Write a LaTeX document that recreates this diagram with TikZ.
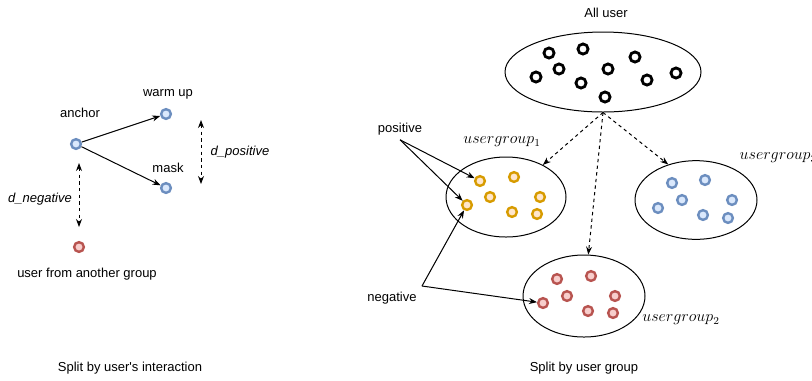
\documentclass[tikz,border=0pt]{standalone}
\usepackage{fontspec}
\setmainfont{Liberation Sans}
\usepackage{tikz}
\usetikzlibrary{arrows.meta,shapes.geometric}

\definecolor{bluestroke}{HTML}{6C8EBF}
\definecolor{bluefill}{HTML}{DAE8FC}
\definecolor{orangestroke}{HTML}{D79B00}
\definecolor{orangefill}{HTML}{FFE6CC}
\definecolor{redstroke}{HTML}{B85450}
\definecolor{redfill}{HTML}{F8CECC}

\begin{document}
\begin{tikzpicture}[x=0.75pt, y=-0.75pt,
    font=\fontsize{9.75}{12}\selectfont,
    >={Stealth[length=6pt,width=4.5pt]},
    user/.style={circle, line width=1.8pt, minimum size=7.3pt, inner sep=0pt},
    blueuser/.style={user, draw=bluestroke, fill=bluefill},
    orangeuser/.style={user, draw=orangestroke, fill=orangefill},
    reduser/.style={user, draw=redstroke, fill=redfill},
    blackuser/.style={circle, draw=black, fill=white, line width=2.1pt, minimum size=7.6pt, inner sep=0pt},
    groupbox/.style={ellipse, draw, line width=0.75pt, inner sep=0pt},
    grouptag/.style={font=\fontsize{11.5}{13}\selectfont},
    arrow/.style={->, line width=0.75pt},
    dasharrow/.style={arrow, dash pattern=on 2.5pt off 2.5pt}]

    \useasboundingbox (0,0) rectangle (812,380);
    \clip (0,0) rectangle (812,380);

    \node[blueuser] (anchor) at (76,144) {};
    \node[blueuser] (warmup) at (166,114) {};
    \node[blueuser] (mask) at (166,188) {};
    \node[reduser] (other) at (79,247) {};

    \node (anchortag) at (80,113) {anchor};
    \node (warmuptag) at (168,94) {warm up};
    \node (masktag) at (168,168) {mask};
    \node (othertag) at (87,274) {user from another group};
    \node (dpos) at (240,152) {\textit{d\_positive}};
    \node (dneg) at (40,199) {\textit{d\_negative}};

    \coordinate (dp1) at (201,120);
    \coordinate (dp2) at (201,184);
    \coordinate (dn1) at (79,163);
    \coordinate (dn2) at (79,227);

    \draw[arrow] (anchor) -- (warmup);
    \draw[arrow] (anchor) -- (mask);
    \draw[dasharrow, <->] (dp1) -- (dp2);
    \draw[dasharrow, <->] (dn1) -- (dn2);

    \node (left) at (130,368) {Split by user\textquotesingle s interaction};

    \node (alltag) at (606,13) {All user};
    \node[groupbox, minimum width=147pt, minimum height=60pt] (all) at (603,72) {};
    \node[groupbox, minimum width=90pt, minimum height=60pt] (g1) at (506,197) {};
    \node[groupbox, minimum width=91.5pt, minimum height=61.5pt] (g2) at (584,296) {};
    \node[groupbox, minimum width=91.5pt, minimum height=59pt] (g3) at (696,200) {};

    \node[grouptag] (g1tag) at (502,142) {$usergroup_1$};
    \node[grouptag] (g2tag) at (681,320) {$usergroup_2$};
    \node[grouptag, anchor=west] (g3tag) at (735,158) {$usergroup_3$};

    \node[blackuser] (a1) at (549,53) {};
    \node[blackuser] (a2) at (583,49) {};
    \node[blackuser] (a3) at (559,69) {};
    \node[blackuser] (a4) at (536,77) {};
    \node[blackuser] (a5) at (608,69) {};
    \node[blackuser] (a6) at (635,57) {};
    \node[blackuser] (a7) at (581,83) {};
    \node[blackuser] (a8) at (647,80) {};
    \node[blackuser] (a9) at (676,73) {};
    \node[blackuser] (a10) at (605,97) {};

    \node[orangeuser] (o1) at (480,181) {};
    \node[orangeuser] (o2) at (514,177) {};
    \node[orangeuser] (o3) at (490,197) {};
    \node[orangeuser] (o4) at (540,197) {};
    \node[orangeuser] (o5) at (467,205) {};
    \node[orangeuser] (o6) at (512,212) {};
    \node[orangeuser] (o7) at (537,214) {};

    \node[reduser] (r1) at (557,279) {};
    \node[reduser] (r2) at (591,276) {};
    \node[reduser] (r3) at (567,296) {};
    \node[reduser] (r4) at (615,296) {};
    \node[reduser] (r5) at (543,303) {};
    \node[reduser] (r6) at (588,311) {};
    \node[reduser] (r7) at (613,313) {};

    \node[blueuser] (b1) at (672,183) {};
    \node[blueuser] (b2) at (705,180) {};
    \node[blueuser] (b3) at (682,200) {};
    \node[blueuser] (b4) at (732,200) {};
    \node[blueuser] (b5) at (658,208) {};
    \node[blueuser] (b6) at (703,215) {};
    \node[blueuser] (b7) at (728,218) {};

    \draw[dasharrow] (all.south) -- (g1);
    \draw[dasharrow] (all.south) -- (g2);
    \draw[dasharrow] (all.south) -- (g3.128);

    \node (pos) at (400,129) {positive};
    \node (neg) at (392,298) {negative};
    \coordinate (negk) at (422,286);

    \draw[arrow] (pos.south) -- (o1);
    \draw[arrow] (pos.south) -- (o5);
    \draw[arrow] (negk) -- (o5);
    \draw[arrow] (negk) -- (r5);

    \node (right) at (584,368) {Split by user group};

\end{tikzpicture}
\end{document}
